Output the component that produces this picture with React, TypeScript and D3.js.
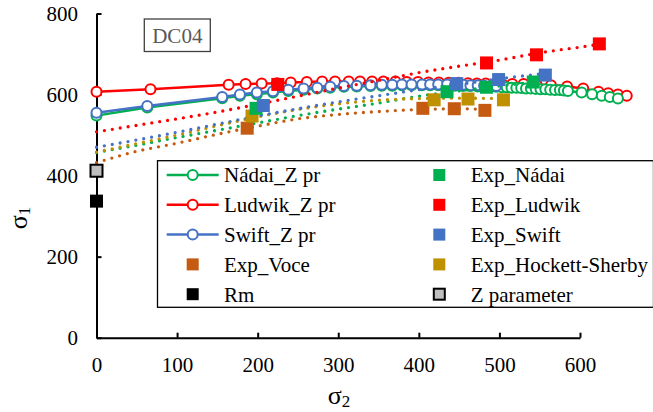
import React, { useEffect, useRef } from "react";
import * as d3 from "d3";

const FONT = "'Liberation Serif', 'Times New Roman', serif";

// model curves (σ2, σ1)
const ludwikX = [0, 67, 164, 185, 205, 224, 241, 261, 280, 296, 313, 327, 342, 356, 371, 385, 399, 412, 425, 437, 449, 461, 472, 483, 494, 504, 516, 530, 546, 564, 584, 604, 623, 635, 647, 658];
const ludwikY = [607, 613, 624, 626, 627, 628, 630, 631, 632, 632, 632, 632, 632, 632, 632, 631, 631, 630, 630, 629, 629, 628, 627, 627, 626, 625, 626, 626, 625, 623, 620, 615, 607, 603, 600, 597];

const nadaiX = [0, 63, 156, 178, 199, 219, 238, 257, 274, 290, 307, 323, 340, 354, 367, 379, 391, 404, 414, 424, 435, 445, 455, 464, 473, 481, 489, 496, 503, 509, 515, 521, 527, 533, 539, 545, 551, 557, 563, 569, 575, 580, 585, 602, 615, 627, 637, 647];
const nadaiY = [548, 568, 591, 597, 601, 605, 609, 612, 615, 617, 619, 620, 621, 622, 622, 623, 623, 623, 623, 623, 622, 622, 621, 621, 620, 620, 619, 619, 618, 618, 617, 617, 616, 615, 615, 614, 613, 613, 612, 611, 611, 610, 609, 605, 601, 597, 594, 590];

const swiftX = [0, 63, 156, 178, 199, 219, 238, 257, 274, 290, 307, 323, 340, 354, 367, 379, 391, 404, 414, 424, 435, 445, 455, 464, 473, 481, 489, 496];
const swiftY = [555, 572, 594, 600, 605, 608, 612, 615, 617, 619, 621, 622, 623, 624, 624, 625, 625, 625, 625, 625, 625, 624, 624, 623, 623, 622, 621, 621];

// experimental points
const expNadaiX = [198, 435, 484, 542];
const expNadaiY = [566, 607, 618, 631];
const expLudwikX = [225, 484, 546, 624];
const expLudwikY = [625, 678, 698, 725];
const expSwiftX = [207, 447, 499, 557];
const expSwiftY = [573, 627, 637, 648];
const expVoceX = [187, 405, 444, 482];
const expVoceY = [517, 566, 565, 561];
const expHSX = [193, 419, 461, 505];
const expHSY = [547, 587, 589, 587];
const rmY = 337;
const zParamY = 412;

// dotted trend lines
const trLudwikX = [0, 50, 100, 150, 200, 250, 300, 350, 400, 450, 500, 550, 600, 624];
const trLudwikY = [508, 524, 540, 557, 576, 596, 616, 635, 654, 670, 685, 703, 717, 724];
const trSwiftX = [0, 50, 100, 150, 200, 250, 300, 350, 400, 450, 500, 557];
const trSwiftY = [470, 488, 507, 527, 547, 565, 582, 597, 612, 625, 639, 652];
const trNadaiX = [0, 50, 100, 150, 200, 250, 300, 350, 400, 450, 500, 542];
const trNadaiY = [457, 475, 494, 512, 530, 548, 564, 579, 596, 609, 621, 630];
const trHSX = [0, 50, 100, 150, 200, 250, 300, 350, 400, 450, 505];
const trHSY = [458, 479, 500, 523, 545, 563, 577, 586, 590, 591, 590];
const trVoceX = [0, 50, 100, 150, 200, 250, 300, 350, 400, 450, 482];
const trVoceY = [432, 460, 480, 502, 522, 540, 551, 558, 563, 565, 563];

const xTicks = [0, 100, 200, 300, 400, 500, 600];
const yTicks = [0, 200, 400, 600, 800];

const GREEN = "#00B050";
const RED = "#FF0000";
const BLUE = "#4472C4";
const ORANGE = "#C55A11";
const GOLD = "#BF9000";

const x = d3.scaleLinear().domain([0, 600]).range([96.5, 580]);
const y = d3.scaleLinear().domain([0, 800]).range([337.7, 13.5]);

const zip = (xs: number[], ys: number[]) => xs.map((v, i) => [v, ys[i]] as [number, number]);

const modelLine = d3
    .line<[number, number]>()
    .x(d => x(d[0]))
    .y(d => y(d[1]));

const trendLine = d3
    .line<[number, number]>()
    .curve(d3.curveMonotoneX)
    .x(d => x(d[0]))
    .y(d => y(d[1]));

const models = [
    { name: "Ludwik_Z pr", color: RED, pts: zip(ludwikX, ludwikY) },
    { name: "Nádai_Z pr", color: GREEN, pts: zip(nadaiX, nadaiY) },
    { name: "Swift_Z pr", color: BLUE, pts: zip(swiftX, swiftY) }
];

const trends = [
    { color: ORANGE, pts: zip(trVoceX, trVoceY) },
    { color: GREEN, pts: zip(trNadaiX, trNadaiY) },
    { color: GOLD, pts: zip(trHSX, trHSY) },
    { color: BLUE, pts: zip(trSwiftX, trSwiftY) },
    { color: RED, pts: zip(trLudwikX, trLudwikY) }
];

const exps = [
    { color: ORANGE, pts: zip(expVoceX, expVoceY) },
    { color: GOLD, pts: zip(expHSX, expHSY) },
    { color: GREEN, pts: zip(expNadaiX, expNadaiY) },
    { color: BLUE, pts: zip(expSwiftX, expSwiftY) },
    { color: RED, pts: zip(expLudwikX, expLudwikY) }
];

type LegendItem = { label: string; kind: "line" | "square" | "zsq"; color: string };
const legendCol1: LegendItem[] = [
    { label: "Nádai_Z pr", kind: "line", color: GREEN },
    { label: "Ludwik_Z pr", kind: "line", color: RED },
    { label: "Swift_Z pr", kind: "line", color: BLUE },
    { label: "Exp_Voce", kind: "square", color: ORANGE },
    { label: "Rm", kind: "square", color: "#000" }
];
const legendCol2: LegendItem[] = [
    { label: "Exp_Nádai", kind: "square", color: GREEN },
    { label: "Exp_Ludwik", kind: "square", color: RED },
    { label: "Exp_Swift", kind: "square", color: BLUE },
    { label: "Exp_Hockett-Sherby", kind: "square", color: GOLD },
    { label: "Z parameter", kind: "zsq", color: "#BFBFBF" }
];

const LegendMarker = ({ item, cx, cy }: { item: LegendItem; cx: number; cy: number }) => {
    if (item.kind === "line") {
        return (
            <g>
                <line x1={cx - 26} x2={cx + 26} y1={cy} y2={cy} stroke={item.color} strokeWidth={2.5} />
                <circle cx={cx} cy={cy} r={5} fill="#fff" stroke={item.color} strokeWidth={2} />
            </g>
        );
    }
    if (item.kind === "zsq") {
        return <rect x={cx - 5.5} y={cy - 5.5} width={11} height={11} fill={item.color} stroke="#000" strokeWidth={2} />;
    }
    return <rect x={cx - 6} y={cy - 6} width={12} height={12} fill={item.color} />;
};

const App = () => {
    const xAxisRef = useRef<SVGGElement>(null);
    const yAxisRef = useRef<SVGGElement>(null);

    useEffect(() => {
        const gx = d3.select(xAxisRef.current);
        gx.selectAll("*").remove();
        gx.call(d3.axisBottom(x).tickValues(xTicks).tickSizeInner(-5).tickSizeOuter(0).tickPadding(19.5));
        gx.attr("font-family", FONT).attr("font-size", 21);
        gx.select(".domain").attr("stroke-width", 2);
        gx.selectAll(".tick line").attr("stroke-width", 2);
        gx.selectAll(".tick text").attr("fill", "#000");

        const gy = d3.select(yAxisRef.current);
        gy.selectAll("*").remove();
        gy.call(d3.axisLeft(y).tickValues(yTicks).tickSizeInner(-5).tickSizeOuter(0).tickPadding(18.5));
        gy.attr("font-family", FONT).attr("font-size", 21);
        gy.select(".domain").attr("stroke-width", 2);
        gy.selectAll(".tick line").attr("stroke-width", 2);
        gy.selectAll(".tick text").attr("fill", "#000");
    }, []);

    const legTop = 175;
    const legStep = 29.8;

    return (
        <svg width={653} height={412} style={{ position: "absolute", left: 0, top: 0, background: "#fff" }}>
            <g ref={xAxisRef} transform={`translate(0,${y(0)})`} />
            <g ref={yAxisRef} transform={`translate(${x(0)},0)`} />

            {/* DC04 label */}
            <rect x={144.3} y={19} width={66} height={32.5} fill="#fff" stroke="#404040" strokeWidth={1.3} />
            <text x={177.3} y={43.3} textAnchor="middle" fontFamily={FONT} fontSize={21} fill="#595959">
                DC04
            </text>

            {/* model curves */}
            {models.map(m => (
                <g key={m.name}>
                    <path d={modelLine(m.pts) || ""} fill="none" stroke={m.color} strokeWidth={2.5} />
                    {m.pts.map((p, i) => (
                        <circle key={i} cx={x(p[0])} cy={y(p[1])} r={5} fill="#fff" stroke={m.color} strokeWidth={2} />
                    ))}
                </g>
            ))}

            {/* trend lines */}
            {trends.map((t, i) => (
                <path
                    key={i}
                    d={trendLine(t.pts) || ""}
                    fill="none"
                    stroke={t.color}
                    strokeWidth={3.3}
                    strokeDasharray="0 8"
                    strokeLinecap="round"
                />
            ))}

            {/* experimental points */}
            {exps.map((e, i) => (
                <g key={i}>
                    {e.pts.map((p, j) => (
                        <rect key={j} x={x(p[0]) - 6.5} y={y(p[1]) - 6.5} width={13} height={13} fill={e.color} />
                    ))}
                </g>
            ))}
            <rect x={x(0) - 6.5} y={y(rmY) - 6.5} width={13} height={13} fill="#000" />
            <rect x={x(0) - 6} y={y(zParamY) - 6} width={12} height={12} fill="#BFBFBF" stroke="#000" strokeWidth={2} />

            {/* legend */}
            <rect x={157.5} y={160.7} width={496} height={146.6} fill="#fff" stroke="#000" strokeWidth={1.3} />
            {legendCol1.map((it, i) => (
                <g key={it.label}>
                    <LegendMarker item={it} cx={192.7} cy={legTop + i * legStep} />
                    <text x={224} y={legTop + i * legStep + 7.3} fontFamily={FONT} fontSize={21} fill="#000">
                        {it.label}
                    </text>
                </g>
            ))}
            {legendCol2.map((it, i) => (
                <g key={it.label}>
                    <LegendMarker item={it} cx={439.3} cy={legTop + i * legStep} />
                    <text x={470.7} y={legTop + i * legStep + 7.3} fontFamily={FONT} fontSize={21} fill="#000">
                        {it.label}
                    </text>
                </g>
            ))}

            {/* axis titles */}
            <text x={339} y={404} textAnchor="middle" fontFamily={FONT} fontSize={26} fill="#000">
                σ<tspan fontSize={17} dy={3}>2</tspan>
            </text>
            <text
                transform="translate(27,218) rotate(-90)"
                textAnchor="middle"
                fontFamily={FONT}
                fontSize={26}
                fill="#000"
            >
                σ<tspan fontSize={17} dy={3}>1</tspan>
            </text>
        </svg>
    );
};

export default App;
